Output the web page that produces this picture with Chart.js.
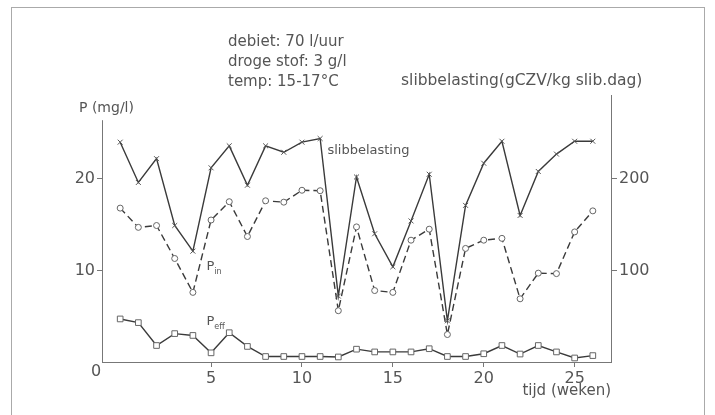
<!DOCTYPE html>
<html><head><meta charset="utf-8">
<script src="https://cdn.jsdelivr.net/npm/chart.js@4/dist/chart.umd.min.js"></script>
<style>html,body{margin:0;padding:0;background:#fff}#wrap{width:715px;height:415px;position:relative}</style>
</head><body><div id="wrap"><canvas id="c" width="715" height="415"></canvas></div>
<script>
// ---- data ----
const weeks = [0,1,2,3,4,5,6,7,8,9,10,11,12,13,14,15,16,17,18,19,20,21,22,23,24,25,26];
const slibbelasting = [240,196,222,149,121,212,236,193,236,229,240,244,72,202,140,104,154,205,45,171,217,241,160,208,227,241,241];
const pIn  = [16.8,14.7,14.9,11.3,7.6,15.5,17.5,13.7,17.6,17.45,18.75,18.7,5.6,14.75,7.8,7.6,13.3,14.5,3.0,12.4,13.3,13.5,6.9,9.7,9.65,14.2,16.5];
const pEff = [4.7,4.3,1.8,3.1,2.9,1.0,3.2,1.7,0.6,0.6,0.6,0.6,0.55,1.4,1.1,1.1,1.1,1.45,0.6,0.6,0.9,1.8,0.87,1.8,1.1,0.44,0.7];
const xTicks = [5,10,15,20,25];
const leftTicks = [10,20];
const rightTicks = [100,200];
const xMin = -1, xMax = 27;
const leftMax = 29.15, rightMax = 291.5, leftAxisTop = 26.4;
const infoLines = ["debiet: 70 l/uur", "droge stof: 3 g/l", "temp: 15-17°C"];
const leftTitle = "P (mg/l)";
const rightTitle = "slibbelasting(gCZV/kg slib.dag)";
const xTitle = "tijd (weken)";

const FONT = '"DejaVu Sans", sans-serif';
const TXT = '#555';
const AX = '#777';
const LINE = '#3a3a3a';

const pts = arr => weeks.map((w,i)=>({x:w, y:arr[i]}));

const deco = {
  id:'deco',
  afterDraw(chart){
    const ctx = chart.ctx, ca = chart.chartArea;
    const xs = chart.scales.x, yl = chart.scales.yL;
    ctx.save();
    // frame
    ctx.strokeStyle = '#aaa'; ctx.lineWidth = 1;
    ctx.strokeRect(11.5, 7.5, 693, 420);
    // left axis line (shorter than right one)
    ctx.strokeStyle = AX;
    ctx.beginPath();
    ctx.moveTo(ca.left+0.5, yl.getPixelForValue(0));
    ctx.lineTo(ca.left+0.5, yl.getPixelForValue(leftAxisTop));
    ctx.stroke();
    ctx.fillStyle = TXT;
    ctx.textBaseline = 'middle';
    ctx.font = '15px ' + FONT;
    ctx.textAlign = 'left';
    infoLines.forEach((t,i)=> ctx.fillText(t, 228, 42 + i*20));
    ctx.font = '15.5px ' + FONT;
    ctx.fillText(rightTitle, 401, 81);
    ctx.font = '14px ' + FONT;
    ctx.fillText(leftTitle, 79, 108);
    ctx.font = '15px ' + FONT;
    ctx.textAlign = 'right';
    ctx.fillText(xTitle, 611, 391);
    ctx.textAlign = 'center';
    ctx.font = '16px ' + FONT;
    ctx.fillText('0', xs.getPixelForValue(xMin) - 6, yl.getPixelForValue(0) + 10);
    // series labels
    ctx.textAlign = 'left';
    ctx.font = '13px ' + FONT;
    ctx.fillText('slibbelasting', xs.getPixelForValue(11.4), yl.getPixelForValue(23.1));
    const lbl = (main, sub, xv, yv) => {
      const px = xs.getPixelForValue(xv), py = yl.getPixelForValue(yv);
      ctx.font = '13px ' + FONT; ctx.fillText(main, px, py);
      const w = ctx.measureText(main).width;
      ctx.font = '8px ' + FONT; ctx.fillText(sub, px + w, py + 5);
    };
    lbl('P', 'in', 4.75, 10.4);
    lbl('P', 'eff', 4.75, 4.4);
    ctx.restore();
  }
};

new Chart(document.getElementById('c'), {
  type:'line',
  data:{datasets:[
    {label:'slibbelasting', data:pts(slibbelasting), yAxisID:'yR', borderColor:LINE, borderWidth:1.4,
     pointStyle:'crossRot', pointRadius:3.5, pointBorderColor:'#555', pointBorderWidth:1, tension:0},
    {label:'P in', data:pts(pIn), yAxisID:'yL', borderColor:LINE, borderWidth:1.4, borderDash:[7,4],
     pointStyle:'circle', pointRadius:3, pointBackgroundColor:'#fff', pointBorderColor:'#666', pointBorderWidth:1, tension:0},
    {label:'P eff', data:pts(pEff), yAxisID:'yL', borderColor:LINE, borderWidth:1.4,
     pointStyle:'rect', pointRadius:4, pointBackgroundColor:'#fff', pointBorderColor:'#666', pointBorderWidth:1, tension:0}
  ]},
  options:{
    responsive:false, animation:false, devicePixelRatio:1,
    layout:{padding:{top:95,left:0,right:0,bottom:0}},
    plugins:{legend:{display:false}, tooltip:{enabled:false}},
    scales:{
      x:{type:'linear', min:xMin, max:xMax,
         afterBuildTicks:s=>{s.ticks = xTicks.map(v=>({value:v}));},
         afterFit:s=>{s.height = 53;},
         grid:{drawOnChartArea:false, drawTicks:true, tickLength:5, color:AX},
         border:{display:true, color:AX, width:1},
         ticks:{font:{family:FONT,size:16}, color:TXT, padding:2, maxRotation:0}},
      yL:{type:'linear', position:'left', min:0, max:leftMax,
         afterBuildTicks:s=>{s.ticks = leftTicks.map(v=>({value:v}));},
         afterFit:s=>{s.width = 102;},
         grid:{drawOnChartArea:false, drawTicks:true, tickLength:5, color:AX},
         border:{display:false},
         ticks:{font:{family:FONT,size:16}, color:TXT, padding:2}},
      yR:{type:'linear', position:'right', min:0, max:rightMax,
         afterBuildTicks:s=>{s.ticks = rightTicks.map(v=>({value:v}));},
         afterFit:s=>{s.width = 104;},
         grid:{drawOnChartArea:false, drawTicks:true, tickLength:6, color:AX},
         border:{display:true, color:AX, width:1},
         ticks:{font:{family:FONT,size:16}, color:TXT, padding:2}}
    }
  },
  plugins:[deco]
});
</script>
</body></html>
